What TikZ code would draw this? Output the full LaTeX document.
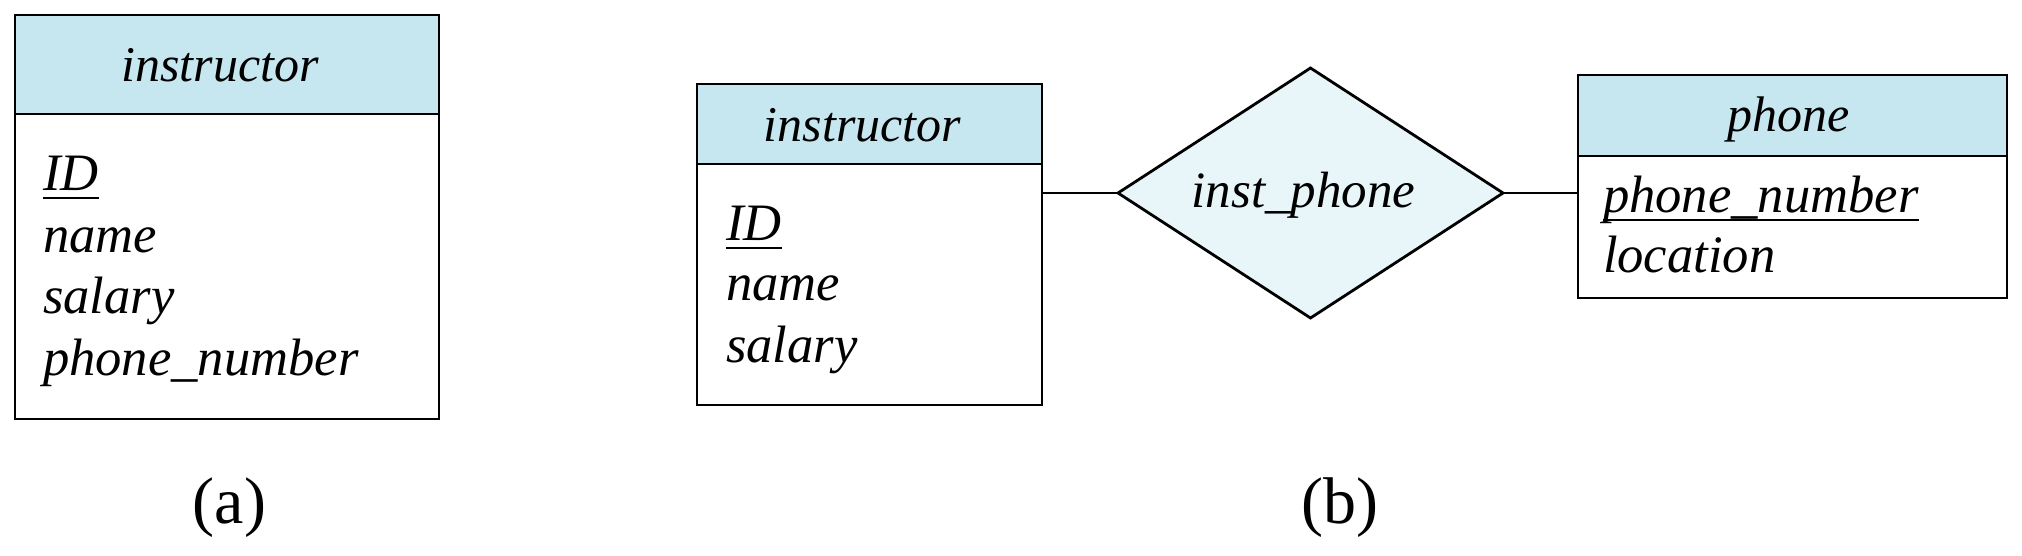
\documentclass[tikz,border=0pt]{standalone}
\usepackage{fontspec}
\setmainfont{Liberation Serif}
\usetikzlibrary{shapes.geometric,fit}
\definecolor{hdr}{RGB}{198,230,240}
\definecolor{rel}{RGB}{232,245,249}
\begin{document}
\begin{tikzpicture}[x=0.5pt,y=-0.5pt,
  every node/.style={inner sep=0pt, outer sep=0pt},
  hdrbox/.style={draw, line width=1.4pt, fill=hdr, rectangle},
  bodybox/.style={draw, line width=1.4pt, fill=white, rectangle},
  relbox/.style={draw, line width=1.4pt, fill=rel, diamond, minimum width=192.5pt, minimum height=125pt},
  txt/.style={font=\fontsize{26.3}{31}\selectfont\itshape, anchor=base west},
  ttl/.style={font=\fontsize{25}{30}\selectfont\itshape, anchor=base},
  reltxt/.style={font=\fontsize{25.5}{30}\selectfont\itshape, anchor=base},
  capt/.style={font=\fontsize{33}{38}\selectfont, anchor=base},
  conn/.style={line width=1.3pt},
  uline/.style={line width=1pt}
]
\useasboundingbox (0,0) rectangle (2022,556);
% (a)
\node[hdrbox, fit={(15,15) (439,114)}] (ah) {};
\node[bodybox, fit={(15,114) (439,419)}] (ab) {};
\node[ttl] (aht) at (220,82) {instructor};
\node[txt] (aid) at (43,190) {ID};
\draw[uline] ([yshift=-3.75pt]aid.base west) -- ([yshift=-3.75pt]aid.base east);
\node[txt] (aname) at (43,252) {name};
\node[txt] (asal) at (43,313) {salary};
\node[txt] (aphn) at (43,375) {phone\_number};
\node[capt] (capa) at (229.5,523) {(a)};
% (b) instructor
\node[hdrbox, fit={(697,84) (1042,164)}] (bh) {};
\node[bodybox, fit={(697,164) (1042,405)}] (bb) {};
\node[ttl] (bht) at (862.5,141) {instructor};
\node[txt] (bid) at (726,240) {ID};
\draw[uline] ([yshift=-3.75pt]bid.base west) -- ([yshift=-3.75pt]bid.base east);
\node[txt] (bname) at (726,300) {name};
\node[txt] (bsal) at (726,362) {salary};
% relationship
\node[relbox] (rel) at (1310.5,193) {};
\node[reltxt] (relt) at (1303.5,207) {inst\_phone};
% phone
\node[hdrbox, fit={(1578,75) (2007,156)}] (ph) {};
\node[bodybox, fit={(1578,156) (2007,298)}] (pb) {};
\node[ttl] (pht) at (1788.5,132) {phone};
\node[txt] (pnum) at (1603,212) {phone\_number};
\draw[uline] ([yshift=-3.75pt]pnum.base west) -- ([yshift=-3.75pt]pnum.base east);
\node[txt] (ploc) at (1603,272) {location};
\node[capt] (capb) at (1340,523) {(b)};
% connectors
\draw[conn] (rel.west) -- (rel.west -| bb.east);
\draw[conn] (rel.east) -- (rel.east -| pb.west);
\end{tikzpicture}
\end{document}
